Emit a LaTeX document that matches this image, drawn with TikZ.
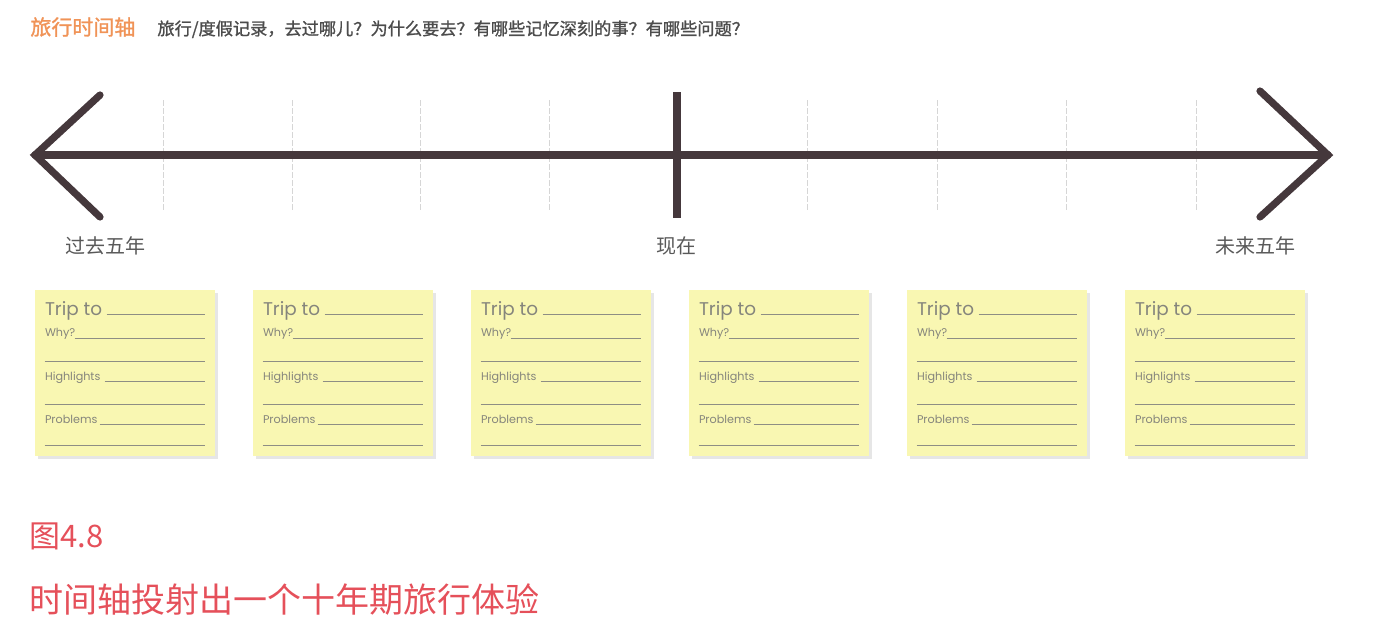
\documentclass[tikz,border=0pt]{standalone}
\usepackage{fontspec}
\setmainfont{Poppins}
\newfontfamily\cjk{Noto Sans CJK SC}[AutoFakeBold=1.2]
\usetikzlibrary{shadows}

\definecolor{axisdark}{HTML}{45383C}
\definecolor{tickgray}{HTML}{D6D6D6}
\definecolor{noteyellow}{HTML}{F9F7B2}
\definecolor{noteline}{HTML}{8E8E84}
\definecolor{notetext}{HTML}{85857C}
\definecolor{headorange}{HTML}{F09357}
\definecolor{captionred}{HTML}{E5505A}

\tikzset{
  axis/.style={draw=axisdark,line width=3.6pt,line cap=round,line join=miter},
  tick/.style={draw=tickgray,line width=0.5pt,dash pattern=on 3pt off 1pt},
  era/.style={font=\cjk\fontsize{10}{12}\selectfont,text=black!65,inner sep=0pt},
  note/.style={fill=noteyellow,minimum width=90pt,minimum height=83pt,inner sep=0pt,
    drop shadow={shadow xshift=1.5pt,shadow yshift=-1.5pt,opacity=0.18,fill=black!55}},
  fillin/.style={draw=noteline,line width=0.6pt},
  notebig/.style={font=\fontsize{9.2}{10}\selectfont,text=notetext,anchor=base west,inner sep=0pt},
  notesmall/.style={font=\fontsize{5.6}{6}\selectfont,text=notetext,anchor=base west,inner sep=0pt}
}

\begin{document}
\begin{tikzpicture}[x=0.5pt,y=-0.5pt]
  \useasboundingbox (0,0) rectangle (1386,628);

  % heading
  \node[anchor=base west,inner sep=0pt,text=headorange,font=\cjk\bfseries\fontsize{10.5}{12}\selectfont]
    (head) at (30,35) {旅行时间轴};
  \node[anchor=base west,inner sep=0pt,text=black!70,font=\cjk\bfseries\fontsize{8.6}{10}\selectfont]
    (question) at (157,35) {旅行/度假记录，去过哪儿？为什么要去？有哪些记忆深刻的事？有哪些问题？};

  % timeline
  \coordinate (past) at (35,155);
  \coordinate (future) at (1328,155);
  \coordinate (now) at (677,155);
  \foreach \x in {163,292,420,549,807,937,1066,1196}
    \draw[tick] (\x,100) -- (\x,210);
  \draw[axis] (past) -- (future);
  \draw[axis] (100,95) -- (past) -- (100,217);
  \draw[axis] (1260,91) -- (future) -- (1260,217);
  \draw[axis,line cap=butt] (677,92) -- (677,218);

  \node[era] (pastlab) at (105,246) {过去五年};
  \node[era] (nowlab) at (676,246) {现在};
  \node[era] (futurelab) at (1255,246) {未来五年};

  % sticky notes
  \foreach \i/\cx in {1/125,2/343,3/561,4/779,5/997,6/1215}{
    \node[note] (note\i) at (\cx,373) {};
    \begin{scope}[shift={(note\i.north west)}]
      \node[notebig] (trip\i) at (10,26) {Trip to};
      \draw[fillin] (72,25) -- (170,25);
      \node[notesmall] (why\i) at (10,47) {Why?};
      \draw[fillin] (40,49) -- (170,49);
      \draw[fillin] (10,72) -- (170,72);
      \node[notesmall] (high\i) at (10,91) {Highlights};
      \draw[fillin] (70,92) -- (170,92);
      \draw[fillin] (10,115) -- (170,115);
      \node[notesmall] (prob\i) at (10,134) {Problems};
      \draw[fillin] (65,135) -- (170,135);
      \draw[fillin] (10,156) -- (170,156);
    \end{scope}
  }

  % caption
  \node[anchor=base west,inner sep=0pt,text=captionred,font=\cjk\fontsize{15.5}{18}\selectfont]
    (fignum) at (29,547) {图4.8};
  \node[anchor=base west,inner sep=0pt,text=captionred,font=\cjk\fontsize{17}{20}\selectfont]
    (figtitle) at (29,612) {时间轴投射出一个十年期旅行体验};
\end{tikzpicture}
\end{document}
